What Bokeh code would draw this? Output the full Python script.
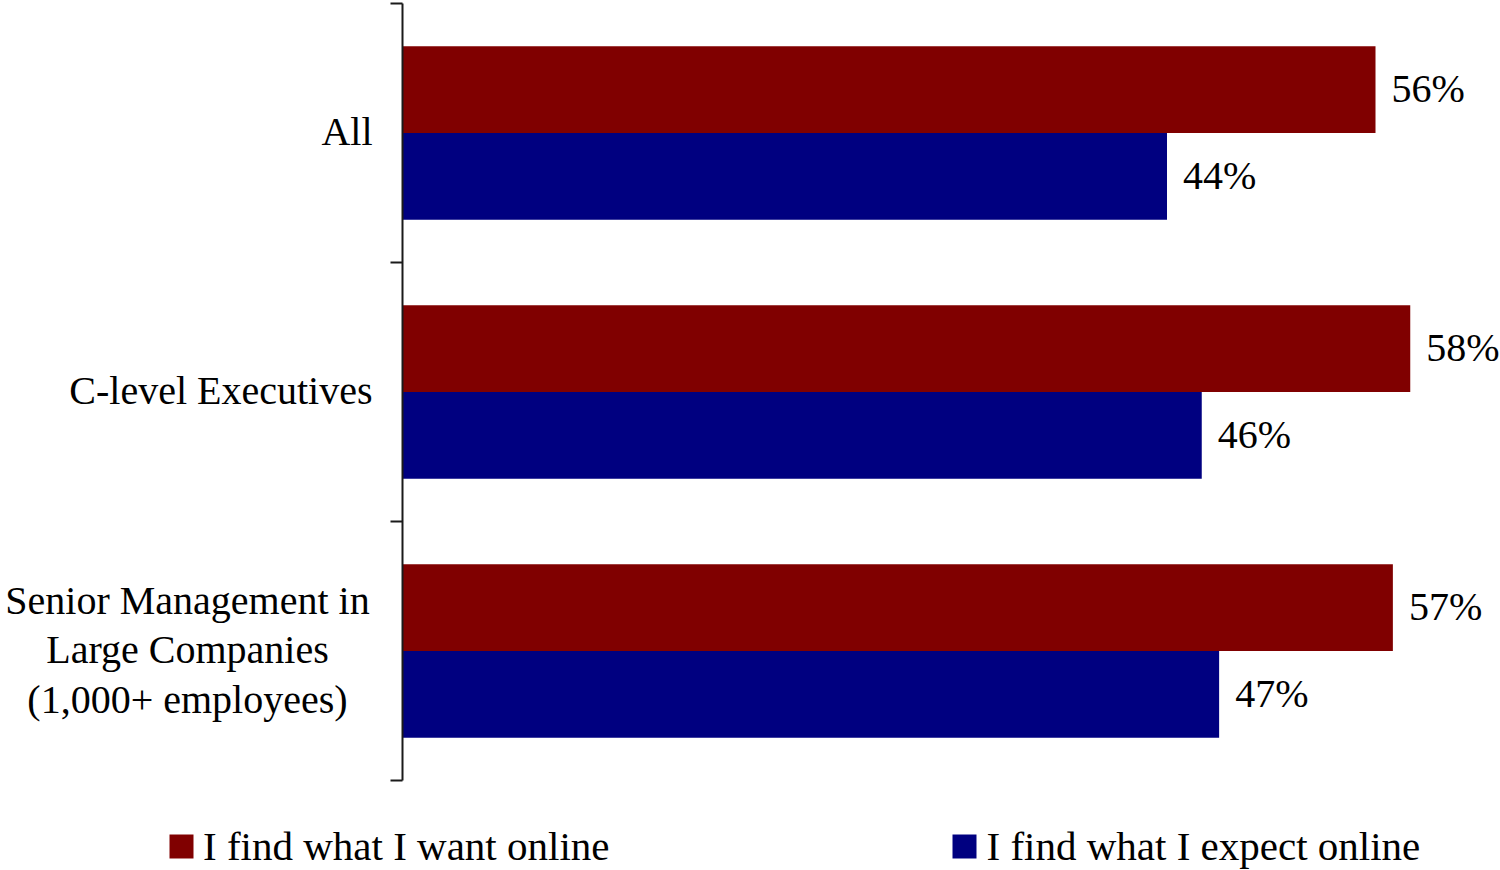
from bokeh.plotting import figure
from bokeh.models import (Range1d, LinearAxis, FixedTicker, Legend,
                          LegendItem, ColumnDataSource)
from bokeh.core.properties import value
from bokeh.embed import file_html
from bokeh.resources import INLINE

# Survey groups, listed top to bottom
categories = [
    "All",
    "C-level Executives",
    "Senior Management in\nLarge Companies\n(1,000+ employees)",
]
want_online = [56, 58, 57]      # % "I find what I want online"
expect_online = [44, 46, 47]    # % "I find what I expect online"
series_names = ["I find what I want online", "I find what I expect online"]

FONT = "'Liberation Serif'"
RED = "#800000"
BLUE = "#000080"
INK = "#1a1a1a"

W, H = 1500, 870
AXIS_X_PX = 402              # pixel column of the category axis
TOP_PX, BOTTOM_PX = 3, 780   # vertical extent of the category axis
PX_PER_PCT = 17.375

n = len(categories)
BAR_H = 0.335
centers = [n - i - 0.5 for i in range(n)]

want_src = ColumnDataSource(dict(
    y=[c + BAR_H / 2 for c in centers],
    v=want_online,
    lbl=[f"{v}%" for v in want_online],
))
expect_src = ColumnDataSource(dict(
    y=[c - BAR_H / 2 for c in centers],
    v=expect_online,
    lbl=[f"{v}%" for v in expect_online],
))

# The frame fills the whole canvas; ranges are set so that 0% sits on the
# axis column and the groups span the axis height.
px_per_group = (BOTTOM_PX - TOP_PX) / n
x_range = Range1d(-AXIS_X_PX / PX_PER_PCT, (W - AXIS_X_PX) / PX_PER_PCT)
y_range = Range1d(-(H - BOTTOM_PX) / px_per_group, n + TOP_PX / px_per_group)

p = figure(width=W, height=H, output_backend="svg", toolbar_location=None,
           x_range=x_range, y_range=y_range,
           x_axis_location=None, y_axis_location=None,
           min_border=0)
p.outline_line_color = None
p.grid.visible = False
p.background_fill_color = "white"
p.border_fill_color = "white"

r_want = p.hbar(y="y", right="v", left=0, height=BAR_H, source=want_src,
                fill_color=RED, line_color=None)
r_expect = p.hbar(y="y", right="v", left=0, height=BAR_H, source=expect_src,
                  fill_color=BLUE, line_color=None)

for src in (want_src, expect_src):
    p.text(x="v", y="y", text="lbl", source=src, x_offset=16, y_offset=-1,
           text_align="left", text_baseline="middle",
           text_font=value(FONT), text_font_size="40px", text_color="black")

# Category axis at 0%, with ticks at the group boundaries
yaxis = LinearAxis(ticker=FixedTicker(ticks=list(range(n + 1))),
                   fixed_location=0, bounds=(0, n),
                   major_tick_in=0, major_tick_out=12,
                   minor_tick_line_color=None,
                   axis_line_width=2, axis_line_color=INK,
                   major_tick_line_width=2, major_tick_line_color=INK,
                   major_label_overrides={i: "" for i in range(n + 1)},
                   major_label_text_color=None)
p.add_layout(yaxis, "left")

# Group names to the left of the axis
single = [(c, y) for c, y in zip(categories, centers) if "\n" not in c]
multi = [(c, y) for c, y in zip(categories, centers) if "\n" in c]
p.text(x=[0] * len(single), y=[y for _, y in single], text=[c for c, _ in single],
       x_offset=-30, y_offset=-2, text_align="right", text_baseline="middle",
       text_font=value(FONT), text_font_size="40px", text_color="black")
p.text(x=[0] * len(multi), y=[y for _, y in multi], text=[c for c, _ in multi],
       x_offset=-215, y_offset=-1, text_align="center", text_baseline="middle",
       text_line_height=1.09,
       text_font=value(FONT), text_font_size="40px", text_color="black")

legend = Legend(items=[LegendItem(label=series_names[0], renderers=[r_want]),
                       LegendItem(label=series_names[1], renderers=[r_expect])],
                orientation="horizontal", location=(166, 0),
                glyph_width=30, glyph_height=30, label_standoff=7,
                spacing=340, padding=0, margin=0,
                border_line_color=None, background_fill_alpha=0,
                label_text_font=FONT, label_text_font_size="41px",
                label_text_color="black")
p.add_layout(legend)

open("out.html", "w").write(file_html(p, INLINE))
